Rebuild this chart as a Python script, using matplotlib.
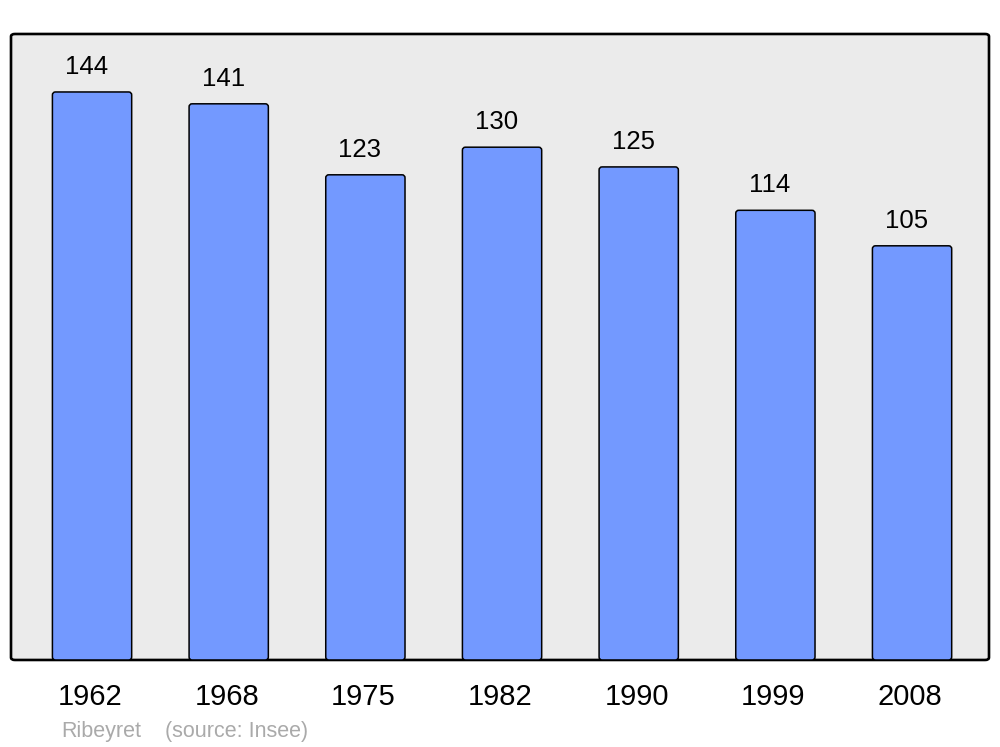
import matplotlib.pyplot as plt
from matplotlib.patches import FancyBboxPatch

plt.rcParams['font.family'] = ['Liberation Sans', 'DejaVu Sans']

years = ["1962", "1968", "1975", "1982", "1990", "1999", "2008"]
population = [144, 141, 123, 130, 125, 114, 105]

BAR_COLOR = "#7399ff"
BG_COLOR = "#ebebeb"

fig = plt.figure(figsize=(10, 7.47), dpi=100)
ax = fig.add_axes([0.011, 0.1165, 0.978, 0.838])

x = range(len(years))
bars = ax.bar(x, population, width=0.58, color=BAR_COLOR, edgecolor="black",
              linewidth=1.1, zorder=2)

ax.set_xlim(-0.593, 6.563)
ax.set_ylim(0, 158.7)

# swap plain rectangles for slightly rounded ones
for b in bars:
    b.set_visible(False)
    p = FancyBboxPatch((b.get_x(), b.get_y()), b.get_width(), b.get_height(),
                       boxstyle="round,pad=0,rounding_size=0.022",
                       mutation_aspect=34.7, fc=BAR_COLOR, ec="black",
                       lw=1.1, zorder=2)
    ax.add_patch(p)

# value labels above bars
for i, v in enumerate(population):
    ax.annotate(str(v), xy=(i, v), xytext=(-4, 18.2), textcoords="offset points",
                ha="center", va="center", fontsize=18.5)

# year labels under the frame
for i, yr in enumerate(years):
    ax.annotate(yr, xy=(i, 0), xycoords=("data", "axes fraction"),
                xytext=(-1.5, -27), textcoords="offset points",
                ha="center", va="center", fontsize=21)

# rounded frame with grey background
ax.patch.set_visible(False)
for s in ax.spines.values():
    s.set_visible(False)
frame = FancyBboxPatch((0, 0), 1, 1, boxstyle="round,pad=0,rounding_size=0.004",
                       transform=ax.transAxes, fc=BG_COLOR, ec="black", lw=1.9,
                       zorder=0, clip_on=False)
ax.add_patch(frame)
ax.set_xticks([])
ax.set_yticks([])

src_y = 1 - 732 / 747
fig.text(0.061, src_y, "Ribeyret", color="#aaaaaa",
         fontsize=15.5, ha="left", va="center")
fig.text(0.165, src_y, "(source: Insee)", color="#aaaaaa",
         fontsize=15.5, ha="left", va="center")

fig.savefig("out.png", dpi=100)
